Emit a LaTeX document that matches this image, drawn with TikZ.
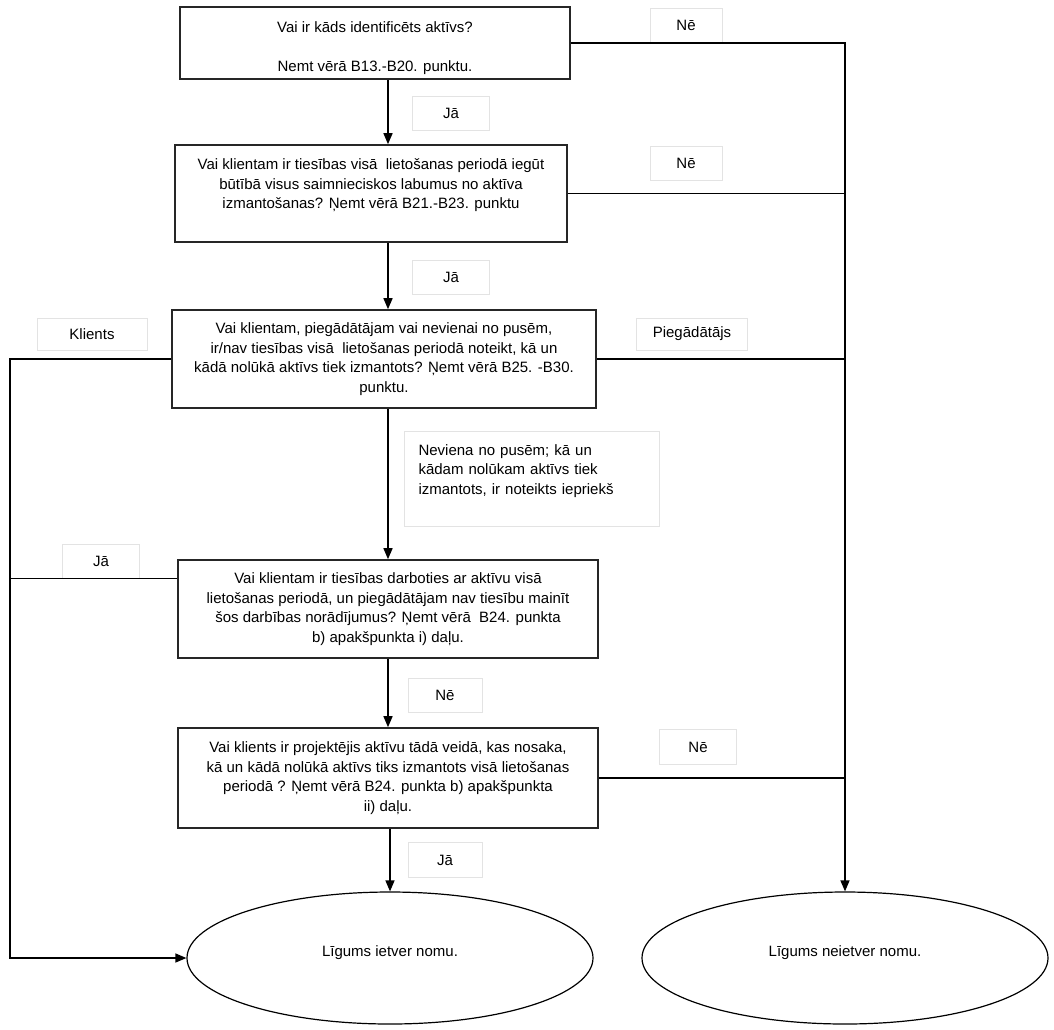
\documentclass[tikz,border=0pt]{standalone}
\usepackage{fontspec}
\setmainfont{Liberation Sans}
\usepackage{tikz}
\usetikzlibrary{arrows.meta,positioning,shapes.geometric}
\newcommand{\qfont}{\fontsize{15}{19.5}\selectfont}
\tikzset{
	qbox/.style={draw=black!85, line width=1.6pt, align=center, inner sep=4pt, font=\qfont},
	tag/.style={draw=gray!22, fill=white, align=center, inner sep=2pt, font=\qfont},
	endbox/.style={draw, ellipse, line width=1.2pt, font=\qfont,
		minimum width=406pt, minimum height=132pt},
	arrow/.style={-{Triangle[length=11pt,width=9pt]}, line width=1.4pt},
	wire/.style={line width=1.4pt}
}

\begin{document}
\begin{tikzpicture}[x=1pt, y=-1pt]
			\useasboundingbox (0,0) rectangle (1054,1029);
			
			%% -- Question boxes
			\node[qbox, minimum width=390pt, minimum height=72pt] (q1) at (375,43)
			{\rule{0pt}{21pt}Vai ir kāds identificēts aktīvs?\\[19.5pt]
				Nemt vērā B13.-B20. punktu.};
			
			\node[qbox, minimum width=392pt, minimum height=97pt] (q2) at (371,193.5)
			{Vai klientam ir tiesības visā\ \ lietošanas periodā iegūt\\
				būtībā visus saimnieciskos labumus no aktīva\\
				izmantošanas? Ņemt vērā B21.-B23. punktu\\ \mbox{}};
			
			\node[qbox, minimum width=424pt, minimum height=98pt] (q3) at (384,359)
			{Vai klientam, piegādātājam vai nevienai no pusēm,\\
				ir/nav tiesības visā\ \ lietošanas periodā noteikt, kā un\\
				kādā nolūkā aktīvs tiek izmantots? Ņemt vērā B25. -B30.\\
				punktu.};
			
			\node[qbox, minimum width=420pt, minimum height=98pt] (q4) at (388,609)
			{Vai klientam ir tiesības darboties ar aktīvu visā\\
				lietošanas periodā, un piegādātājam nav tiesību mainīt\\
				šos darbības norādījumus? Ņemt vērā\ \ B24. punkta\\
				b) apakšpunkta i) daļu.};
			
			\node[qbox, minimum width=420pt, minimum height=100pt] (q5) at (388,778)
			{Vai klients ir projektējis aktīvu tādā veidā, kas nosaka,\\
				kā un kādā nolūkā aktīvs tiks izmantots visā lietošanas\\
				periodā ? Ņemt vērā B24. punkta b) apakšpunkta\\
				ii) daļu.};
			
			%% -- Results
			\node[endbox] (res1) at (390,958) {Līgums ietver nomu.\rule[-14pt]{0pt}{0pt}};
			\node[endbox] (res2) at (845,958) {Līgums neietver nomu.\rule[-14pt]{0pt}{0pt}};
			
			%% -- Answer tags
			\node[tag, minimum width=72pt, minimum height=34pt] (ne1) at (686,25) {Nē};
			\node[tag, minimum width=77pt, minimum height=34pt] (ja1) at (451,113) {Jā};
			\node[tag, minimum width=72pt, minimum height=34pt] (ne2) at (686,163) {Nē};
			\node[tag, minimum width=77pt, minimum height=34pt] (ja2) at (451,277) {Jā};
			\node[tag, minimum width=110pt, minimum height=32pt] (kli) at (92,334) {Klients};
			\node[tag, minimum width=111pt, minimum height=32pt] (pie) at (692,334) {Piegādātājs};
			\node[tag, text width=227pt, align=left, inner xsep=14pt,
			minimum height=95pt] (nev) at (532,479)
			{Neviena no pusēm; kā un\\
				kādam nolūkam aktīvs tiek\\
				izmantots, ir noteikts iepriekš\\ \mbox{}};
			\node[tag, minimum width=77pt, minimum height=34pt] (ja3) at (101,561) {Jā};
			\node[tag, minimum width=74pt, minimum height=34pt] (ne3) at (445,695) {Nē};
			\node[tag, minimum width=77pt, minimum height=35pt] (ne4) at (698,747) {Nē};
			\node[tag, minimum width=74pt, minimum height=35pt] (ja4) at (445,860) {Jā};
			
			%% -- Rails
			\coordinate (spine) at (388,0);
			\coordinate (lrail) at (10,0);
			
			%% -- Main flow (Jā / Nē downwards)
			\draw[arrow] (q1.south -| spine) -- (q2.north -| spine);
			\draw[arrow] (q2.south -| spine) -- (q3.north -| spine);
			\draw[arrow] (q3.south -| spine) -- (q4.north -| spine);
			\draw[arrow] (q4.south -| spine) -- (q5.north -| spine);
			\draw[arrow] (q5.south -| res1.north) -- (res1.north);
			
			%% -- Right rail: no lease
			\draw[arrow] (q1.east) -| (res2.north);
			\draw[wire] (q2.east) -- (q2.east -| res2.north);
			\draw[wire] (q3.east) -- (q3.east -| res2.north);
			\draw[wire] (q5.east) -- (q5.east -| res2.north);
			
			%% -- Left rail: lease
			\draw[arrow] (q3.west) -- (q3.west -| lrail) |- (res1.west);
			\draw[wire] (q4.west |- ja3.south) -- (ja3.south -| lrail);
			
\end{tikzpicture}
\end{document}
